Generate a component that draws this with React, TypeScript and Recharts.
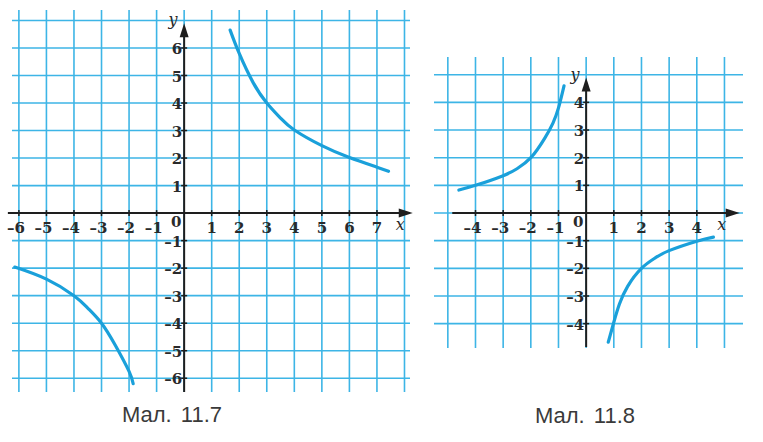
import React from 'react';
import { LineChart, Line, XAxis, YAxis, CartesianGrid, ReferenceLine, ReferenceDot } from 'recharts';

// ---- Мал. 11.7 ----
const leftUpperX = [1.67, 2, 2.5, 3, 3.5, 4, 5, 6, 7, 7.42];
const leftUpperY = [6.65, 5.8, 4.75, 4.0, 3.45, 3.02, 2.45, 2.02, 1.67, 1.52];
const leftLowerX = [-6.15, -5, -4, -3.5, -3, -2.5, -2, -1.85];
const leftLowerY = [-1.96, -2.4, -3.0, -3.45, -4.0, -4.8, -5.75, -6.2];
const leftGridX = [-6, -5, -4, -3, -2, -1, 0, 1, 2, 3, 4, 5, 6, 7, 8];
const leftGridY = [-6, -5, -4, -3, -2, -1, 0, 1, 2, 3, 4, 5, 6, 7];
const leftXLabels = [-6, -5, -4, -3, -2, -1, 1, 2, 3, 4, 5, 6, 7];
const leftYLabels = [-6, -5, -4, -3, -2, -1, 1, 2, 3, 4, 5, 6];
const leftCaption = 'Мал. 11.7';

// ---- Мал. 11.8 ----
const rightUpperX = [-4.6, -4, -3, -2.5, -2, -1.5, -1.2, -1, -0.8];
const rightUpperY = [0.83, 1.0, 1.35, 1.6, 2.0, 2.7, 3.25, 3.8, 4.6];
const rightLowerX = [0.8, 1, 1.2, 1.5, 2, 2.5, 3, 4, 4.6];
const rightLowerY = [-4.67, -3.95, -3.3, -2.65, -2.0, -1.62, -1.36, -1.02, -0.87];
const rightGridX = [-5, -4, -3, -2, -1, 0, 1, 2, 3, 4, 5];
const rightGridY = [-4, -3, -2, -1, 0, 1, 2, 3, 4, 5];
const rightXLabels = [-4, -3, -2, -1, 1, 2, 3, 4];
const rightYLabels = [-4, -3, -2, -1, 1, 2, 3, 4];
const rightCaption = 'Мал. 11.8';

const zip = (xs: number[], ys: number[]) => xs.map((x, i) => ({ x, y: ys[i] }));

const GRID = '#3db5e6';
const CURVE = '#1aa0da';
const AXIS = '#1e1e1e';
const TXT = '#2a2a2a';
const SERIF = "'DejaVu Serif', 'Liberation Serif', serif";

const fmt = (v: number) => (v < 0 ? '\u2013' + Math.abs(v) : String(v));

const textShape = (txt: string, dx: number, dy: number, anchor: string, italic = false, size = 15) => (p: any) => (
  <text
    x={p.cx + dx}
    y={p.cy + dy}
    textAnchor={anchor as any}
    style={{
      fontFamily: SERIF,
      fontSize: size,
      fontStyle: italic ? 'italic' : 'normal',
      fontWeight: italic ? 'normal' : 'bold',
      fill: TXT,
    }}
  >
    {txt}
  </text>
);

const upArrow = (p: any) => (
  <polygon points={`${p.cx},${p.cy} ${p.cx - 4.5},${p.cy + 14} ${p.cx + 4.5},${p.cy + 14}`} fill={AXIS} />
);
const rightArrow = (p: any) => (
  <polygon points={`${p.cx},${p.cy} ${p.cx - 14},${p.cy - 4.5} ${p.cx - 14},${p.cy + 4.5}`} fill={AXIS} />
);
const xTick = (p: any) => <line x1={p.cx} y1={p.cy - 3} x2={p.cx} y2={p.cy + 3} stroke={AXIS} strokeWidth={1.5} />;
const yTick = (p: any) => <line x1={p.cx - 3} y1={p.cy} x2={p.cx + 3} y2={p.cy} stroke={AXIS} strokeWidth={1.5} />;

type PanelProps = {
  left: number;
  top: number;
  width: number;
  height: number;
  margin: { top: number; right: number; bottom: number; left: number };
  xDomain: [number, number];
  yDomain: [number, number];
  gridX: number[];
  gridY: number[];
  xLabels: number[];
  yLabels: number[];
  xAxisSeg: [number, number];
  yAxisSeg: [number, number];
  series: { x: number; y: number }[][];
  xNamePos: [number, number];
  yNamePos: [number, number];
};

function Panel(props: PanelProps) {
  const { xDomain, yDomain } = props;
  return (
    <div style={{ position: 'absolute', left: props.left, top: props.top }}>
      <LineChart width={props.width} height={props.height} margin={props.margin}>
        <XAxis type="number" dataKey="x" domain={xDomain} allowDataOverflow hide ticks={props.gridX} />
        <YAxis type="number" dataKey="y" domain={yDomain} allowDataOverflow hide ticks={props.gridY} />
        <CartesianGrid stroke={GRID} strokeWidth={1.6} horizontalValues={props.gridY} verticalValues={props.gridX} />
        <ReferenceLine
          segment={[{ x: props.xAxisSeg[0], y: 0 }, { x: props.xAxisSeg[1], y: 0 }]}
          stroke={AXIS}
          strokeWidth={2}
          ifOverflow="visible"
        />
        <ReferenceLine
          segment={[{ x: 0, y: props.yAxisSeg[0] }, { x: 0, y: props.yAxisSeg[1] }]}
          stroke={AXIS}
          strokeWidth={2}
          ifOverflow="visible"
        />
        <ReferenceDot x={props.xAxisSeg[1] + 0.2} y={0} r={0} ifOverflow="visible" shape={rightArrow} />
        <ReferenceDot x={0} y={props.yAxisSeg[1] + 0.2} r={0} ifOverflow="visible" shape={upArrow} />
        {props.xLabels.map((v) => (
          <ReferenceDot key={'xt' + v} x={v} y={0} r={0} ifOverflow="visible" shape={xTick} />
        ))}
        {props.yLabels.map((v) => (
          <ReferenceDot key={'yt' + v} x={0} y={v} r={0} ifOverflow="visible" shape={yTick} />
        ))}
        {props.xLabels.map((v) => (
          <ReferenceDot
            key={'xl' + v}
            x={v}
            y={0}
            r={0}
            ifOverflow="visible"
            shape={textShape(fmt(v), v < 0 ? -3 : 0, 20, 'middle')}
          />
        ))}
        {props.yLabels.map((v) => (
          <ReferenceDot
            key={'yl' + v}
            x={0}
            y={v}
            r={0}
            ifOverflow="visible"
            shape={textShape(fmt(v), -2, 6, 'end')}
          />
        ))}
        <ReferenceDot x={0} y={0} r={0} ifOverflow="visible" shape={textShape('0', -8, 14, 'middle')} />
        <ReferenceDot x={props.xNamePos[0]} y={props.xNamePos[1]} r={0} ifOverflow="visible" shape={textShape('x', 0, 0, 'middle', true, 16)} />
        <ReferenceDot x={props.yNamePos[0]} y={props.yNamePos[1]} r={0} ifOverflow="visible" shape={textShape('y', 0, 0, 'middle', true, 16)} />
        {props.series.map((d, i) => (
          <Line
            key={'s' + i}
            data={d}
            dataKey="y"
            type="natural"
            stroke={CURVE}
            strokeWidth={3.2}
            dot={false}
            isAnimationActive={false}
            strokeLinecap="round"
          />
        ))}
      </LineChart>
    </div>
  );
}

const captionStyle = (cx: number, top: number): React.CSSProperties => ({
  position: 'absolute',
  left: cx - 100,
  width: 200,
  top,
  textAlign: 'center',
  fontFamily: '"Liberation Sans", Arial, sans-serif',
  fontSize: 22,
  color: '#3a3a3a',
  lineHeight: '24px',
  wordSpacing: 3,
});

export default function App() {
  return (
    <div style={{ position: 'absolute', left: 0, top: 0, width: 763, height: 442, background: '#fff', overflow: 'hidden' }}>
      <Panel
        left={0}
        top={0}
        width={430}
        height={400}
        margin={{ top: 10, left: 12, right: 20, bottom: 8 }}
        xDomain={[-6.25, 8.2]}
        yDomain={[-6.5, 7.38]}
        gridX={leftGridX}
        gridY={leftGridY}
        xLabels={leftXLabels}
        yLabels={leftYLabels}
        xAxisSeg={[-6.4, 8.1]}
        yAxisSeg={[-6.5, 6.7]}
        series={[zip(leftUpperX, leftUpperY), zip(leftLowerX, leftLowerY)]}
        xNamePos={[7.85, -0.6]}
        yNamePos={[-0.4, 6.85]}
      />
      <Panel
        left={420}
        top={40}
        width={343}
        height={320}
        margin={{ top: 17, left: 14, right: 20, bottom: 12 }}
        xDomain={[-5.5, 5.67]}
        yDomain={[-4.88, 5.64]}
        gridX={rightGridX}
        gridY={rightGridY}
        xLabels={rightXLabels}
        yLabels={rightYLabels}
        xAxisSeg={[-4.84, 5.35]}
        yAxisSeg={[-4.84, 4.7]}
        series={[zip(rightUpperX, rightUpperY), zip(rightLowerX, rightLowerY)]}
        xNamePos={[4.9, -0.6]}
        yNamePos={[-0.4, 4.8]}
      />
      <div style={captionStyle(172, 403)}>{leftCaption}</div>
      <div style={captionStyle(585, 404)}>{rightCaption}</div>
    </div>
  );
}
